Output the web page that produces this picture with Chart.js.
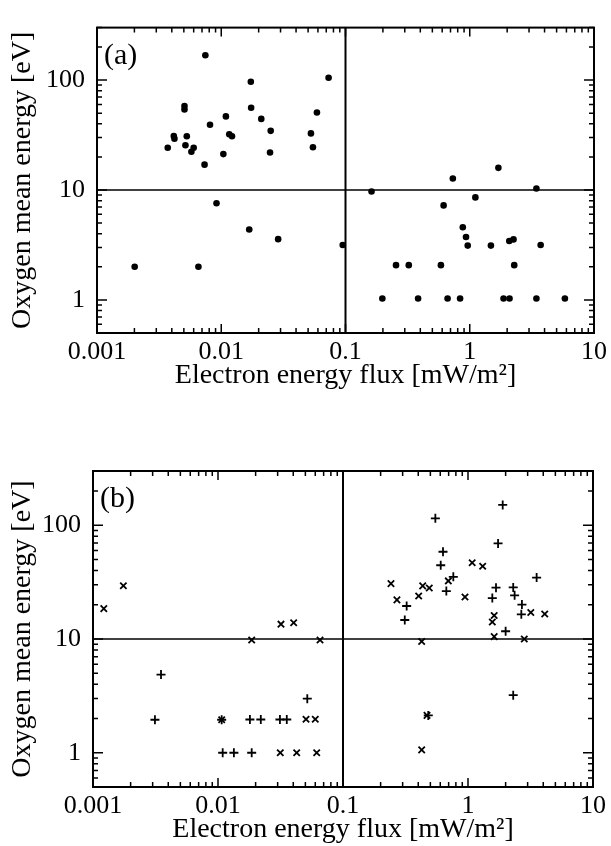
<!DOCTYPE html>
<html>
<head>
<meta charset="utf-8">
<title>Oxygen mean energy vs electron energy flux</title>
<script src="https://cdn.jsdelivr.net/npm/chart.js@4.4.1/dist/chart.umd.min.js"></script>
<style>
  html, body { margin: 0; padding: 0; background: #fff; }
  canvas { position: absolute; left: 0; }
  #chartA { top: 0; }
  #chartB { top: 423px; }
</style>
</head>
<body>
<canvas id="chartA" width="611" height="423"></canvas>
<canvas id="chartB" width="611" height="423"></canvas>
<script>
// ===== AXES =====
const xTickVals = [0.001, 0.01, 0.1, 1, 10];
const xTickLabels = ['0.001', '0.01', '0.1', '1', '10'];
const yTickVals = [1, 10, 100];
const yTickLabels = ['1', '10', '100'];
const splitFlux = 0.1;
const splitEnergy = 10;

// ===== PANEL (a) : dots =====
const aFlux = [
    0.00745, 0.0173, 0.0731, 0.00506, 0.00506, 0.0109, 0.00812, 0.0174, 0.0210, 0.0250,
    0.0589, 0.0527, 0.00415, 0.0042, 0.00528, 0.0116, 0.0122, 0.00371, 0.00515, 0.0060,
    0.00575, 0.0104, 0.0247, 0.0547, 0.00734, 0.00916, 0.0168, 0.0287, 0.095, 0.00201,
    0.00655, 0.731, 1.70, 0.162, 3.44, 1.11, 0.616, 0.879, 0.933, 0.963,
    1.48, 2.08, 2.25, 3.72, 0.255, 0.323, 0.586, 2.28, 0.198, 0.384,
    0.663, 0.836, 1.87, 2.09, 3.44, 5.83
];
const aEnergy = [
    168, 96.6, 105, 58, 54, 46.7, 39.2, 56, 44.3, 34.5,
    50.6, 32.7, 31, 29.3, 30.8, 32.1, 30.8, 24.2, 25.5, 24.2,
    22.3, 21.2, 21.9, 24.5, 17.0, 7.58, 4.37, 3.57, 3.16, 2.0,
    2.0, 12.7, 15.9, 9.7, 10.3, 8.56, 7.24, 4.58, 3.74, 3.12,
    3.12, 3.43, 3.55, 3.16, 2.07, 2.07, 2.07, 2.07, 1.03, 1.03,
    1.03, 1.03, 1.03, 1.03, 1.03, 1.03
];

// ===== PANEL (b) : plus and cross =====
const bPlusFlux = [
    0.0035, 0.00313, 0.0107, 0.0180, 0.0220, 0.0313, 0.0355, 0.0518, 0.0109, 0.0134,
    0.0186, 1.895, 0.548, 1.74, 0.631, 0.605, 0.763, 0.671, 0.323, 0.312,
    1.675, 1.565, 2.30, 2.36, 3.54, 2.70, 2.67, 2.00, 2.30, 0.481
];
const bPlusEnergy = [
    4.87, 1.95, 1.95, 1.96, 1.96, 1.96, 1.96, 2.99, 1.0, 1.0,
    1.0, 151, 115, 69.3, 58.5, 44.5, 35.2, 26.4, 19.5, 14.7,
    28.3, 22.9, 28.4, 24.2, 34.7, 20.1, 16.5, 11.7, 3.21, 2.13
];
const bCrossFlux = [
    0.00122, 0.00175, 0.0319, 0.0403, 0.0186, 0.0655, 0.0107, 0.0506, 0.060, 0.0315,
    0.0426, 0.0616, 1.08, 1.31, 0.242, 0.696, 0.434, 0.490, 0.946, 0.403,
    0.270, 3.18, 4.11, 1.62, 1.565, 1.62, 2.82, 0.426, 0.47, 0.426
];
const bCrossEnergy = [
    18.5, 29.4, 13.5, 13.9, 9.8, 9.8, 1.95, 1.97, 1.97, 1.0,
    1.0, 1.0, 46.8, 43.6, 30.7, 32.4, 29.3, 28.1, 23.4, 23.9,
    22.1, 17.1, 16.6, 16.1, 14.1, 10.5, 10.0, 9.5, 2.13, 1.06
];

const toPoints = (xs, ys) => xs.map((v, i) => ({ x: v, y: ys[i] }));

const tickFont = { family: 'Liberation Serif', size: 26 };
const titleFont = { family: 'Liberation Serif', size: 28 };

// frame, inward ticks, quadrant lines, panel tag
const panelFrame = {
    id: 'panelFrame',
    beforeDatasetsDraw(chart) {
        const { ctx, chartArea: a, scales: { x, y } } = chart;
        const sx = x.getPixelForValue(splitFlux);
        const sy = y.getPixelForValue(splitEnergy);
        ctx.save();
        ctx.strokeStyle = '#000';
        ctx.lineWidth = 2;
        ctx.beginPath();
        ctx.moveTo(sx, a.top); ctx.lineTo(sx, a.bottom);
        ctx.stroke();
        ctx.lineWidth = 1.6;
        ctx.beginPath();
        ctx.moveTo(a.left, sy); ctx.lineTo(a.right, sy);
        ctx.stroke();
        ctx.restore();
    },
    afterDraw(chart, args, opts) {
        const { ctx, chartArea: a, scales: { x, y } } = chart;
        ctx.save();
        ctx.strokeStyle = '#000';
        ctx.lineWidth = 2;
        ctx.strokeRect(a.left, a.top, a.right - a.left, a.bottom - a.top);

        ctx.lineWidth = 1.5;
        ctx.beginPath();
        [0.001, 0.01, 0.1, 1].forEach(d => {
            for (let k = 1; k <= 9; k++) {
                const v = d * k;
                if (v < x.min || v > x.max * 1.0001) continue;
                const px = x.getPixelForValue(v);
                const len = k === 1 ? 9 : 5;
                ctx.moveTo(px, a.bottom); ctx.lineTo(px, a.bottom - len);
                ctx.moveTo(px, a.top); ctx.lineTo(px, a.top + len);
            }
        });
        [0.1, 1, 10, 100].forEach(d => {
            for (let k = 1; k <= 9; k++) {
                const v = d * k;
                if (v < y.min * 0.9999 || v > y.max * 1.0001) continue;
                const py = y.getPixelForValue(v);
                const len = k === 1 ? 10 : 5;
                ctx.moveTo(a.left, py); ctx.lineTo(a.left + len, py);
                ctx.moveTo(a.right, py); ctx.lineTo(a.right - len, py);
            }
        });
        ctx.stroke();

        ctx.fillStyle = '#000';
        ctx.font = '30px "Liberation Serif"';
        ctx.textBaseline = 'alphabetic';
        ctx.fillText(opts.tag, a.left + 7, a.top + 36);
        ctx.restore();
    }
};

function makePanel(canvasId, datasets, g, tag) {
    return new Chart(document.getElementById(canvasId), {
        type: 'scatter',
        data: { datasets: datasets },
        options: {
            responsive: false,
            animation: false,
            layout: { padding: { top: g.top, right: g.right, left: 0, bottom: 0 } },
            plugins: {
                legend: { display: false },
                tooltip: { enabled: false },
                panelFrame: { tag: tag }
            },
            scales: {
                x: {
                    type: 'logarithmic',
                    min: 0.001,
                    max: 10,
                    grid: { display: false, drawTicks: false },
                    border: { display: false },
                    afterBuildTicks: s => { s.ticks = xTickVals.map(v => ({ value: v })); },
                    afterFit: s => { s.height = g.xHeight; },
                    ticks: {
                        autoSkip: false,
                        maxRotation: 0,
                        padding: 4,
                        color: '#000',
                        font: tickFont,
                        callback: (v, i) => xTickLabels[i]
                    },
                    title: {
                        display: true,
                        text: 'Electron energy flux [mW/m²]',
                        color: '#000',
                        font: titleFont,
                        padding: { top: 0, bottom: g.xTitlePad }
                    }
                },
                y: {
                    type: 'logarithmic',
                    min: 0.5,
                    max: 300,
                    grid: { display: false, drawTicks: false },
                    border: { display: false },
                    afterBuildTicks: s => { s.ticks = yTickVals.map(v => ({ value: v })); },
                    afterFit: s => { s.width = g.yWidth; },
                    ticks: {
                        autoSkip: false,
                        padding: 12,
                        color: '#000',
                        font: tickFont,
                        callback: (v, i) => yTickLabels[i]
                    },
                    title: {
                        display: true,
                        text: 'Oxygen mean energy [eV]',
                        color: '#000',
                        font: titleFont,
                        padding: { top: 6, bottom: 0 }
                    }
                }
            }
        },
        plugins: [panelFrame]
    });
}

// ===== PANEL (a) =====
makePanel('chartA', [{
    data: toPoints(aFlux, aEnergy),
    pointStyle: 'circle',
    pointRadius: 3.3,
    backgroundColor: '#000',
    borderWidth: 0
}], { top: 14, right: 14, yWidth: 97, xHeight: 90, xTitlePad: 31 }, '(a)');

// ===== PANEL (b) =====
makePanel('chartB', [{
    data: toPoints(bPlusFlux, bPlusEnergy),
    pointStyle: 'cross',
    pointRadius: 4.5,
    borderColor: '#000',
    borderWidth: 1.8
}, {
    data: toPoints(bCrossFlux, bCrossEnergy),
    pointStyle: 'crossRot',
    pointRadius: 4.5,
    borderColor: '#000',
    borderWidth: 1.8
}], { top: 48, right: 18, yWidth: 93, xHeight: 59, xTitlePad: 0 }, '(b)');
</script>
</body>
</html>
